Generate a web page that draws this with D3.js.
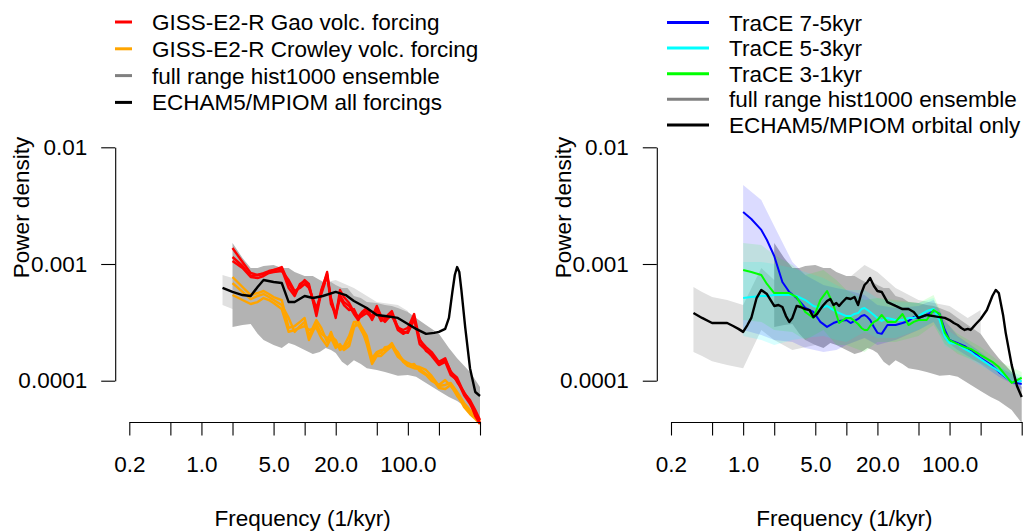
<!DOCTYPE html>
<html><head><meta charset="utf-8">
<script src="https://cdn.jsdelivr.net/npm/d3@7"></script>
<style>body{margin:0;background:#fff}svg{display:block}</style>
</head><body>
<svg id="chart" width="1024" height="531"></svg>
<script>
// ---------- axis ticks / labels ----------
const xTickValues = [0.2, 0.5, 1, 2, 5, 10, 20, 50, 100, 200, 500];
const xLabelValues = [0.2, 1, 5, 20, 100];
const xTickLabels = ["0.2", "1.0", "5.0", "20.0", "100.0"];
const yTickValues = [0.01, 0.001, 0.0001];
const yTickLabels = ["0.01", "0.001", "0.0001"];
const xTitle = "Frequency (1/kyr)";
const yTitle = "Power density";
const legendLeft = ["GISS-E2-R Gao volc. forcing", "GISS-E2-R Crowley volc. forcing", "full range hist1000 ensemble", "ECHAM5/MPIOM all forcings"];
const legendRight = ["TraCE 7-5kyr", "TraCE 5-3kyr", "TraCE 3-1kyr", "full range hist1000 ensemble", "ECHAM5/MPIOM orbital only"];

// ---------- left panel data ----------
const freqGiss = [2,2.5,3,3.5,4,4.5,5,6,7,8,9,10,11,13,14.5,16.5,18,20,22,24,27,30,33,36,40,45,50,55,60,70,80,90,100,115,130,150,170,200,230,260,300,350,400,450,500];
const gao1 = [13.7e-4,10.4e-4,8.37e-4,8.05e-4,8.21e-4,8.54e-4,8.88e-4,9.42e-4,6.87e-4,5.64e-4,6.48e-4,7.29e-4,6.74e-4,3.58e-4,5.76e-4,8.54e-4,4.91e-4,3.45e-4,5.99e-4,5.21e-4,4.63e-4,3.88e-4,3.51e-4,3.88e-4,4.20e-4,3.51e-4,4.37e-4,3.58e-4,3.45e-4,3.95e-4,2.83e-4,2.72e-4,2.83e-4,3.73e-4,2.23e-4,1.94e-4,1.76e-4,1.45e-4,1.56e-4,1.19e-4,1.06e-4,0.785e-4,0.683e-4,0.561e-4,0.461e-4];
const gao2 = [11.48e-4,9.61e-4,7.89e-4,8.05e-4,8.37e-4,8.71e-4,8.88e-4,9.06e-4,6.23e-4,5.32e-4,6.74e-4,7.15e-4,6.48e-4,3.88e-4,5.99e-4,8.21e-4,4.54e-4,3.73e-4,5.42e-4,4.72e-4,4.37e-4,3.73e-4,3.31e-4,3.73e-4,4.03e-4,3.31e-4,4.03e-4,3.45e-4,3.19e-4,3.73e-4,2.72e-4,2.52e-4,2.67e-4,3.45e-4,2.06e-4,1.83e-4,1.63e-4,1.36e-4,1.45e-4,1.12e-4,1.014e-4,0.754e-4,0.632e-4,0.529e-4,0.434e-4];
const gao3 = [10.61e-4,9.24e-4,7.74e-4,7.58e-4,7.89e-4,8.37e-4,8.54e-4,8.71e-4,7.29e-4,5.87e-4,6.23e-4,6.74e-4,6.23e-4,4.20e-4,5.53e-4,7.89e-4,5.11e-4,3.58e-4,5.11e-4,4.45e-4,4.03e-4,4.11e-4,3.45e-4,3.58e-4,3.80e-4,3.45e-4,3.88e-4,3.25e-4,3.38e-4,3.58e-4,2.89e-4,2.62e-4,2.57e-4,3.31e-4,2.28e-4,1.80e-4,1.69e-4,1.39e-4,1.50e-4,1.21e-4,0.975e-4,0.800e-4,0.657e-4,0.498e-4,0.426e-4];
const crowley1 = [7.74e-4,6.35e-4,5.42e-4,5.64e-4,5.87e-4,5.53e-4,5.21e-4,4.91e-4,2.83e-4,2.94e-4,3.19e-4,3.45e-4,2.42e-4,3.31e-4,2.83e-4,2.15e-4,2.62e-4,2.02e-4,1.94e-4,1.98e-4,2.42e-4,3.19e-4,3.19e-4,2.83e-4,2.42e-4,1.56e-4,1.76e-4,1.83e-4,1.83e-4,2.10e-4,1.69e-4,1.50e-4,1.42e-4,1.34e-4,1.31e-4,1.236e-4,1.10e-4,0.901e-4,0.919e-4,0.956e-4,0.800e-4,0.644e-4,0.561e-4,0.508e-4,0.452e-4];
const crowley2 = [6.87e-4,5.76e-4,5.01e-4,5.32e-4,5.53e-4,5.21e-4,4.91e-4,4.45e-4,3.45e-4,2.62e-4,2.94e-4,3.19e-4,2.23e-4,3.06e-4,2.52e-4,2.32e-4,2.42e-4,2.23e-4,1.83e-4,1.91e-4,2.15e-4,2.94e-4,3.00e-4,2.62e-4,2.23e-4,1.45e-4,1.69e-4,1.73e-4,1.94e-4,1.98e-4,1.60e-4,1.47e-4,1.34e-4,1.28e-4,1.26e-4,1.14e-4,1.06e-4,0.866e-4,0.849e-4,0.919e-4,0.740e-4,0.619e-4,0.539e-4,0.489e-4,0.434e-4];
const crowley3 = [5.42e-4,4.91e-4,4.54e-4,4.72e-4,5.11e-4,4.91e-4,4.63e-4,4.11e-4,2.62e-4,2.72e-4,2.83e-4,2.94e-4,2.72e-4,2.83e-4,2.32e-4,1.98e-4,2.32e-4,1.91e-4,2.06e-4,1.83e-4,1.98e-4,2.83e-4,3.31e-4,2.72e-4,2.06e-4,1.39e-4,1.63e-4,1.63e-4,1.76e-4,1.98e-4,1.76e-4,1.45e-4,1.34e-4,1.39e-4,1.21e-4,1.12e-4,0.994e-4,0.919e-4,1.014e-4,0.901e-4,0.769e-4,0.595e-4,0.518e-4,0.470e-4,0.426e-4];

const freqEchamAll = [1.6,2,2.5,3,3.5,4,5,6,7,8,10,12,15,20,25,30,40,50,60,80,100,120,150,180,200,230,250,270,285,300,315,330,360,400,450,500];
const echamAll = [6.23e-4,5.76e-4,5.42e-4,5.32e-4,6.35e-4,7.29e-4,7.01e-4,6.87e-4,4.72e-4,4.72e-4,5.32e-4,5.11e-4,5.32e-4,5.76e-4,5.42e-4,4.82e-4,4.20e-4,3.66e-4,3.58e-4,3.45e-4,3.06e-4,2.78e-4,2.52e-4,2.57e-4,2.62e-4,2.78e-4,3.45e-4,5.76e-4,8.05e-4,9.42e-4,8.54e-4,5.99e-4,2.83e-4,1.28e-4,0.800e-4,0.740e-4];
const freqEchamAllBand = [1.6,2,3,4,6,8,10,15,20,30,50,80,100];
const echamAllUpper = [8.05e-4,7.58e-4,7.01e-4,9.24e-4,8.88e-4,6.23e-4,6.87e-4,6.87e-4,7.29e-4,6.23e-4,4.72e-4,4.45e-4,3.95e-4];
const echamAllLower = [4.45e-4,4.11e-4,3.88e-4,5.32e-4,5.11e-4,3.45e-4,3.88e-4,3.95e-4,4.28e-4,3.58e-4,2.72e-4,2.57e-4,2.32e-4];

// hist1000 ensemble full range (same in both panels)
const freqHist = [2,2.5,3,3.5,4,5,6,7,8,10,12,14,16,18,20,23,26,30,35,40,50,60,70,80,100,120,150,200,250,300,400,500];
const histUpper = [15.14e-4,11.26e-4,9.24e-4,9.24e-4,9.61e-4,9.80e-4,9.24e-4,9.24e-4,8.54e-4,7.89e-4,7.89e-4,7.29e-4,6.87e-4,7.01e-4,6.61e-4,6.23e-4,6.23e-4,5.32e-4,5.11e-4,4.72e-4,4.63e-4,4.45e-4,4.37e-4,4.20e-4,3.88e-4,3.45e-4,3.00e-4,2.52e-4,1.91e-4,1.56e-4,1.19e-4,0.883e-4];
const histLower = [2.89e-4,3.00e-4,3.06e-4,2.52e-4,2.23e-4,2.02e-4,1.91e-4,2.10e-4,2.02e-4,1.83e-4,1.69e-4,1.76e-4,1.91e-4,1.83e-4,1.73e-4,1.45e-4,1.34e-4,1.50e-4,1.39e-4,1.28e-4,1.236e-4,1.19e-4,1.14e-4,1.10e-4,1.12e-4,1.08e-4,0.956e-4,0.816e-4,0.725e-4,0.670e-4,0.561e-4,0.434e-4];

// ---------- right panel data ----------
const freqEchamOrb = [0.33,0.4,0.5,0.6,0.7,0.8,0.9,1,1.1,1.2,1.35,1.5,1.7,2,2.2,2.4,2.6,2.8,3,3.3,3.6,4,4.4,4.8,5.2,5.6,6,6.5,7,7.5,8,8.5,9,10,11,12,13,14,15,16,17,18.5,20,22,25,30,35,40,45,50,60,70,80,90,100,110,120,130,140,150,160,170,180,200,230,260,280,300,330,350,400,450,500];
const echamOrb = [3.80e-4,3.45e-4,3.12e-4,3.12e-4,3.12e-4,2.94e-4,2.78e-4,2.62e-4,
  3.00e-4,3.45e-4,5.11e-4,5.99e-4,5.53e-4,4.37e-4,4.45e-4,4.28e-4,3.58e-4,3.19e-4,3.45e-4,4.37e-4,4.28e-4,4.11e-4,4.03e-4,3.51e-4,3.73e-4,4.11e-4,4.45e-4,4.82e-4,5.01e-4,4.45e-4,4.63e-4,4.37e-4,4.63e-4,5.11e-4,5.01e-4,5.21e-4,4.45e-4,5.64e-4,6.61e-4,7.01e-4,7.58e-4,6.48e-4,5.87e-4,5.76e-4,4.72e-4,
  4.37e-4,4.11e-4,4.11e-4,3.88e-4,3.45e-4,3.66e-4,3.58e-4,3.51e-4,3.45e-4,3.31e-4,3.12e-4,3.00e-4,2.83e-4,2.72e-4,2.78e-4,2.72e-4,2.89e-4,3.06e-4,3.38e-4,4.03e-4,5.32e-4,5.99e-4,5.64e-4,3.66e-4,2.57e-4,1.36e-4,0.901e-4,0.725e-4];
const freqEchamOrbBand = [0.33,0.4,0.5,0.7,1,1.5,2,3,5,8,10,15,20,30,50,100,150,200];
const echamOrbUpper = [6.35e-4,5.76e-4,5.21e-4,4.91e-4,4.45e-4,9.24e-4,7.29e-4,5.76e-4,5.99e-4,7.01e-4,7.29e-4,9.80e-4,8.54e-4,6.23e-4,4.91e-4,4.37e-4,3.45e-4,4.03e-4];
const echamOrbLower = [1.76e-4,1.63e-4,1.47e-4,1.36e-4,1.28e-4,2.72e-4,2.23e-4,1.83e-4,2.02e-4,2.46e-4,2.72e-4,4.03e-4,3.45e-4,2.72e-4,2.32e-4,2.32e-4,2.06e-4,2.46e-4];

const freqTrace = [1,1.2,1.5,1.7,2,2.4,2.8,3.3,4,4.8,5.6,6.5,7.5,8.5,10,11,12,13,14,15,16,17,18.5,20,22,25,30,35,40,45,50,60,70,80,90,100,120,140,160,180,200,260,300,400,500];
const trace75 = [27.9e-4,24.3e-4,19.6e-4,16.06e-4,11.71e-4,7.01e-4,5.76e-4,5.11e-4,4.20e-4,3.88e-4,3.19e-4,2.89e-4,3.12e-4,3.25e-4,3.31e-4,3.12e-4,3.25e-4,3.38e-4,3.58e-4,3.66e-4,3.51e-4,3.31e-4,2.89e-4,2.57e-4,2.52e-4,3.00e-4,3.00e-4,3.12e-4,3.25e-4,3.51e-4,3.45e-4,3.66e-4,3.95e-4,3.73e-4,2.72e-4,2.23e-4,2.10e-4,1.98e-4,1.83e-4,1.69e-4,1.56e-4,1.34e-4,1.19e-4,0.975e-4,0.937e-4];
const trace53 = [5.11e-4,5.21e-4,5.32e-4,5.32e-4,5.42e-4,5.42e-4,5.42e-4,5.32e-4,4.91e-4,4.37e-4,4.20e-4,4.37e-4,4.03e-4,3.80e-4,3.58e-4,3.58e-4,3.73e-4,3.80e-4,4.11e-4,4.20e-4,4.03e-4,3.88e-4,3.66e-4,3.45e-4,3.25e-4,3.45e-4,3.31e-4,3.31e-4,3.45e-4,3.45e-4,3.58e-4,3.95e-4,4.11e-4,3.31e-4,2.37e-4,2.10e-4,2.06e-4,1.87e-4,1.76e-4,1.63e-4,1.53e-4,1.31e-4,1.21e-4,0.975e-4,0.994e-4];
const trace31 = [8.88e-4,8.54e-4,8.05e-4,6.74e-4,5.64e-4,5.64e-4,5.64e-4,5.21e-4,3.88e-4,3.45e-4,4.91e-4,5.87e-4,4.45e-4,3.12e-4,3.45e-4,3.45e-4,3.25e-4,3.06e-4,2.83e-4,2.72e-4,2.72e-4,2.94e-4,3.19e-4,3.31e-4,3.66e-4,3.19e-4,3.19e-4,3.73e-4,3.00e-4,3.19e-4,3.31e-4,3.31e-4,4.03e-4,3.73e-4,2.57e-4,2.23e-4,2.06e-4,1.94e-4,1.87e-4,1.76e-4,1.66e-4,1.45e-4,1.31e-4,0.956e-4,1.06e-4];
const freqTraceBand = [1,1.5,2,3,4,6,8,10,15,20,30,50,70,90,120,200,300,500];
const trace75Upper = [47.5e-4,35.3e-4,21.2e-4,10.40e-4,8.05e-4,6.61e-4,6.23e-4,5.99e-4,5.42e-4,4.45e-4,4.20e-4,4.37e-4,4.91e-4,3.31e-4,2.42e-4,1.76e-4,1.31e-4,1.03e-4];
const trace75Lower = [2.72e-4,2.46e-4,2.23e-4,2.15e-4,1.91e-4,1.76e-4,1.83e-4,2.02e-4,2.32e-4,2.02e-4,2.23e-4,2.72e-4,3.19e-4,2.23e-4,1.83e-4,1.39e-4,1.08e-4,0.849e-4];
const trace53Upper = [10.40e-4,10.40e-4,10.00e-4,9.24e-4,8.54e-4,7.58e-4,6.61e-4,5.99e-4,5.99e-4,5.11e-4,4.72e-4,4.63e-4,5.11e-4,2.83e-4,2.37e-4,1.73e-4,1.34e-4,1.10e-4];
const trace53Lower = [2.42e-4,2.23e-4,2.02e-4,2.23e-4,2.32e-4,2.42e-4,2.23e-4,2.15e-4,2.62e-4,2.32e-4,2.32e-4,2.72e-4,3.19e-4,1.98e-4,1.76e-4,1.34e-4,1.10e-4,0.901e-4];
const trace31Upper = [15.14e-4,14.55e-4,11.94e-4,9.80e-4,8.05e-4,8.88e-4,7.29e-4,5.99e-4,4.91e-4,5.11e-4,4.91e-4,4.63e-4,5.42e-4,3.19e-4,2.52e-4,1.94e-4,1.47e-4,1.19e-4];
const trace31Lower = [3.31e-4,3.19e-4,2.72e-4,2.62e-4,2.23e-4,2.72e-4,2.02e-4,2.02e-4,1.76e-4,2.15e-4,2.15e-4,2.42e-4,3.00e-4,2.06e-4,1.69e-4,1.42e-4,1.17e-4,0.937e-4];

// ---------- drawing ----------
const FONT = '"Liberation Sans", Arial, Helvetica, sans-serif';
const FS = 22.5;
const svg = d3.select("#chart");

const pairs = (f, v) => f.map((d, i) => ({ f: d, p: v[i] }));
const band = (f, lo, hi) => f.map((d, i) => ({ f: d, lo: lo[i], hi: hi[i] }));

function makePanel(cfg) {
  const x = d3.scaleLog().domain([0.2, 500]).range(cfg.xRange);
  const y = d3.scaleLog().domain([1e-4, 1e-2]).range([380.7, 147.3]);
  const g = svg.append("g");
  const area = d3.area().x(d => x(d.f)).y0(d => y(d.lo)).y1(d => y(d.hi));
  const line = d3.line().x(d => x(d.f)).y(d => y(d.p));

  cfg.bands.forEach(b => {
    g.append("path").datum(b.data).attr("d", area)
      .attr("fill", b.fill).attr("fill-opacity", b.opacity == null ? 1 : b.opacity).attr("stroke", "none");
  });
  cfg.lines.forEach(l => {
    g.append("path").datum(l.data).attr("d", line)
      .attr("fill", "none").attr("stroke", l.color).attr("stroke-width", l.width)
      .attr("stroke-linejoin", "round").attr("stroke-linecap", "butt");
  });

  // y axis
  const ya = g.append("g").attr("transform", `translate(${cfg.yAxisX},0)`)
    .call(d3.axisLeft(y).tickValues(yTickValues).tickFormat((d, i) => yTickLabels[i])
      .tickSize(14).tickSizeOuter(0).tickPadding(14));
  // x axis
  const xa = g.append("g").attr("transform", `translate(0,422)`)
    .call(d3.axisBottom(x).tickValues(xTickValues)
      .tickFormat(d => { const k = xLabelValues.indexOf(d); return k >= 0 ? xTickLabels[k] : ""; })
      .tickSize(13.5).tickSizeOuter(0).tickPadding(20.5));
  [ya, xa].forEach(a => {
    a.attr("font-size", FS).attr("font-family", FONT);
    a.selectAll("path,line").attr("stroke", "#000").attr("stroke-width", 1.1);
    a.selectAll("text").attr("fill", "#000");
  });

  g.append("text").attr("x", (cfg.xRange[0] + cfg.xRange[1]) / 2 - 2).attr("y", 526)
    .attr("text-anchor", "middle").attr("font-size", FS).attr("font-family", FONT).text(xTitle);
  g.append("text").attr("transform", `translate(${cfg.yTitleX},207.5) rotate(-90)`)
    .attr("text-anchor", "middle").attr("font-size", FS).attr("font-family", FONT).text(yTitle);

  // legend
  cfg.legend.labels.forEach((lab, i) => {
    const yy = cfg.legend.y0 + i * cfg.legend.dy;
    g.append("line").attr("x1", cfg.legend.x1).attr("x2", cfg.legend.x2).attr("y1", yy).attr("y2", yy)
      .attr("stroke", cfg.legend.colors[i]).attr("stroke-width", 3);
    g.append("text").attr("x", cfg.legend.tx).attr("y", yy + 8)
      .attr("font-size", FS).attr("font-family", FONT).attr("fill", "#000").text(lab);
  });
}

makePanel({
  xRange: [129.3, 480], yAxisX: 115.2, yTitleX: 29,
  bands: [
    { data: band(freqEchamAllBand, echamAllLower, echamAllUpper), fill: "#e0e0e0" },
    { data: band(freqHist, histLower, histUpper), fill: "#b3b3b3" }
  ],
  lines: [
    { data: pairs(freqGiss, crowley1), color: "#ffa500", width: 2.4 },
    { data: pairs(freqGiss, crowley2), color: "#ffa500", width: 2.4 },
    { data: pairs(freqGiss, crowley3), color: "#ffa500", width: 2.4 },
    { data: pairs(freqGiss, gao1), color: "#ff0000", width: 2.4 },
    { data: pairs(freqGiss, gao2), color: "#ff0000", width: 2.4 },
    { data: pairs(freqGiss, gao3), color: "#ff0000", width: 2.4 },
    { data: pairs(freqEchamAll, echamAll), color: "#000000", width: 2.4 }
  ],
  legend: { labels: legendLeft, colors: ["#ff0000", "#ffa500", "#808080", "#000000"],
    x1: 115, x2: 132, tx: 152, y0: 22, dy: 26.8 }
});

makePanel({
  xRange: [671, 1021.7], yAxisX: 656.8, yTitleX: 571,
  bands: [
    { data: band(freqEchamOrbBand, echamOrbLower, echamOrbUpper), fill: "#e0e0e0" },
    { data: band(freqHist, histLower, histUpper), fill: "#b3b3b3" },
    { data: band(freqTraceBand, trace75Lower, trace75Upper), fill: "#0000ff", opacity: 0.14 },
    { data: band(freqTraceBand, trace53Lower, trace53Upper), fill: "#00ffff", opacity: 0.15 },
    { data: band(freqTraceBand, trace31Lower, trace31Upper), fill: "#00ff00", opacity: 0.12 }
  ],
  lines: [
    { data: pairs(freqTrace, trace75), color: "#0000ff", width: 2 },
    { data: pairs(freqTrace, trace53), color: "#00ffff", width: 2 },
    { data: pairs(freqTrace, trace31), color: "#00ff00", width: 2 },
    { data: pairs(freqEchamOrb, echamOrb), color: "#000000", width: 2.4 }
  ],
  legend: { labels: legendRight, colors: ["#0000ff", "#00ffff", "#00ff00", "#808080", "#000000"],
    x1: 667, x2: 709, tx: 729, y0: 22.5, dy: 25.6 }
});
</script>
</body></html>
